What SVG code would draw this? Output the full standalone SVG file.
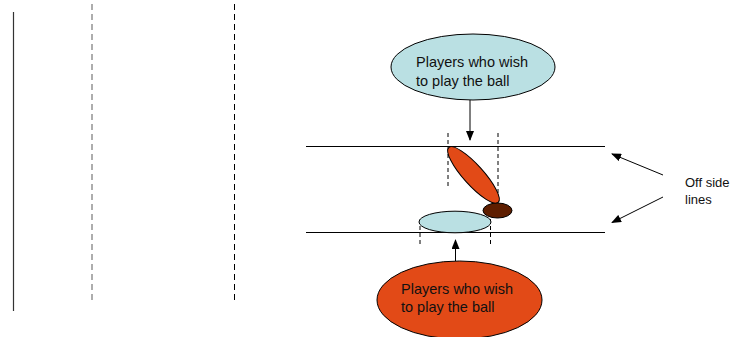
<svg xmlns="http://www.w3.org/2000/svg" width="738" height="337" viewBox="0 0 738 337">
<style>
.lbl{font-family:"Liberation Sans",Arial,sans-serif;font-size:14.5px;fill:#111}
.ln{stroke:#000;stroke-width:1;fill:none}
.dash{stroke:#000;stroke-width:1;stroke-dasharray:4,3;fill:none}
.ell{stroke:#000;stroke-width:1}
</style>
<defs>
<marker id="ah" markerWidth="10" markerHeight="8" refX="9" refY="4" orient="auto" markerUnits="userSpaceOnUse">
<path d="M0,0 L10,4 L0,8 Z" fill="#000"/>
</marker>
</defs>
<rect width="738" height="337" fill="#fff"/>
<g id="field-lines">
<line x1="13.5" y1="12" x2="13.5" y2="311" stroke="#333" stroke-width="1.2"/>
<line x1="92" y1="4" x2="92" y2="302" stroke="#777" stroke-width="1.2" stroke-dasharray="6,4"/>
<line x1="234.5" y1="4" x2="234.5" y2="302" stroke="#000" stroke-width="1" stroke-dasharray="6,4"/>
<line x1="306" y1="146.5" x2="605" y2="146.5" class="ln"/>
<line x1="306" y1="232.5" x2="605" y2="232.5" class="ln"/>
<line x1="448" y1="133" x2="448" y2="189" class="dash"/>
<line x1="498" y1="133" x2="498" y2="201" class="dash"/>
<line x1="420" y1="219" x2="420" y2="247" class="dash"/>
<line x1="490.5" y1="219" x2="490.5" y2="247" class="dash"/>
</g>
<g id="players">
<ellipse cx="473.5" cy="175" rx="37" ry="10" transform="rotate(48 473.5 175)" fill="#E24A17" class="ell"/>
<ellipse cx="497.5" cy="210.5" rx="14.5" ry="7.5" fill="#5E1E00" class="ell"/>
<ellipse cx="455" cy="222" rx="36" ry="10.8" fill="#BAE0E3" class="ell"/>
</g>
<g id="top-node">
<ellipse cx="473" cy="67" rx="82" ry="33" fill="#BAE0E3" class="ell"/>
<text class="lbl" x="416" y="67">Players who wish</text>
<text class="lbl" x="416" y="85.5">to play the ball</text>
</g>
<g id="bottom-node">
<ellipse cx="459.5" cy="300" rx="82.5" ry="39" fill="#E24A17" class="ell"/>
<text class="lbl" x="401" y="294">Players who wish</text>
<text class="lbl" x="401" y="312">to play the ball</text>
</g>
<g id="offside-label">
<text class="lbl" x="685" y="187" style="font-size:13px">Off side</text>
<text class="lbl" x="685" y="204" style="font-size:13px">lines</text>
</g>
<g id="connectors">
<line x1="470" y1="100" x2="470" y2="140" class="ln" marker-end="url(#ah)"/>
<line x1="455.5" y1="261" x2="455.5" y2="240" class="ln" marker-end="url(#ah)"/>
<line x1="663" y1="175" x2="612" y2="154" class="ln" marker-end="url(#ah)"/>
<line x1="663" y1="197" x2="612" y2="222.5" class="ln" marker-end="url(#ah)"/>
</g>
</svg>
